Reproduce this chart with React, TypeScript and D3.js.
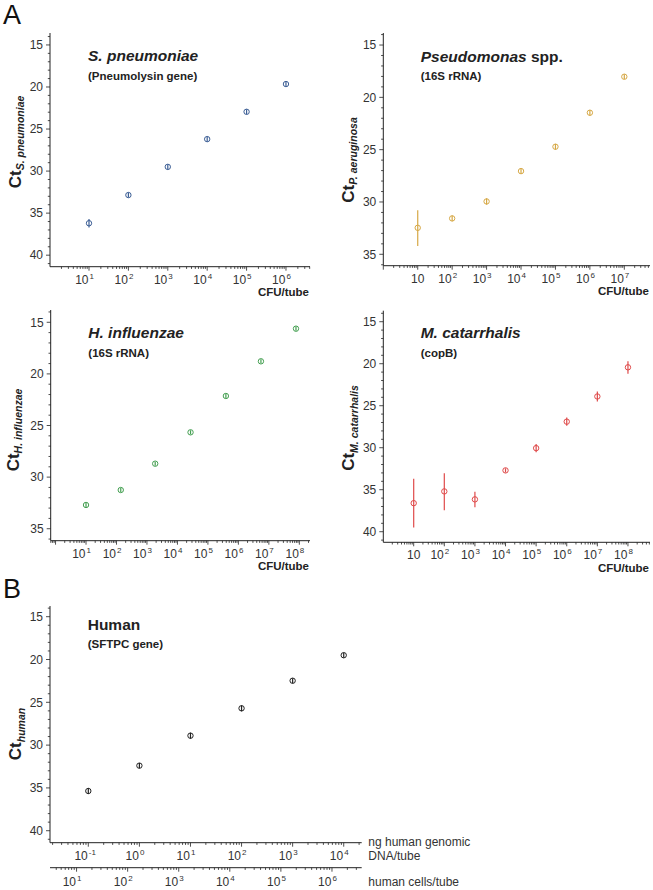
import React from "react";
import * as d3 from "d3";

const FONT = "Arial, 'Liberation Sans', Helvetica, sans-serif";

// ---------- DATA ----------
// Panel A1: S. pneumoniae
const spnX = [1e1, 1e2, 1e3, 1e4, 1e5, 1e6];
const spnCt = [36.2, 32.85, 29.5, 26.2, 22.95, 19.65];
const spnErr = [0.5, 0.3, 0.3, 0.3, 0.3, 0.3];
const spnTickExp = [1, 2, 3, 4, 5, 6];

// Panel A2: Pseudomonas spp.
const psaX = [1e1, 1e2, 1e3, 1e4, 1e5, 1e6, 1e7];
const psaCt = [32.47, 31.57, 29.95, 27.05, 24.72, 21.47, 18.03];
const psaErrLo = [30.8, 31.3, 29.65, 26.8, 24.45, 21.2, 17.8];
const psaErrHi = [34.2, 31.85, 30.25, 27.3, 25.0, 21.75, 18.25];
const psaTickExp = [1, 2, 3, 4, 5, 6, 7];

// Panel A3: H. influenzae
const hinX = [10 ** 1.0, 10 ** 2.14, 10 ** 3.27, 10 ** 4.43, 10 ** 5.59, 10 ** 6.74, 10 ** 7.89];
const hinCt = [32.7, 31.25, 28.7, 25.66, 22.14, 18.78, 15.62];
const hinErr = [0.2, 0.2, 0.2, 0.2, 0.2, 0.2, 0.2];
const hinTickExp = [1, 2, 3, 4, 5, 6, 7, 8];

// Panel A4: M. catarrhalis
const mcaX = [1e1, 1e2, 1e3, 1e4, 1e5, 1e6, 1e7, 1e8];
const mcaCt = [36.6, 35.2, 36.15, 32.7, 30.05, 26.9, 23.9, 20.43];
const mcaErrLo = [33.7, 33.05, 35.24, 32.45, 29.55, 26.4, 23.3, 19.7];
const mcaErrHi = [39.5, 37.45, 37.1, 32.95, 30.55, 27.4, 24.5, 21.2];
const mcaTickExp = [1, 2, 3, 4, 5, 6, 7, 8];

// Panel B: Human
const humX = [1e-1, 1e0, 1e1, 1e2, 1e3, 1e4];
const humCt = [35.36, 32.4, 28.9, 25.7, 22.48, 19.5];
const humErr = [0.35, 0.3, 0.35, 0.35, 0.3, 0.3];
const humTickExp = [-1, 0, 1, 2, 3, 4];
const cellTickExp = [1, 2, 3, 4, 5, 6];
const cellsPerNgLog = 2.23;

const yMajor = [15, 20, 25, 30, 35, 40];

type PanelCfg = {
  x0: number; x1: number; y0: number; y1: number;
  xLog: [number, number];
  yDom: [number, number];
  xs: number[]; ys: number[]; lo: number[]; hi: number[];
  color: string;
  tickExp: number[];
  plainTen?: boolean;
  title: React.ReactNode; subtitle: string;
  tx: number; ty: number; sty: number;
  sub: string; lx: number; ly: number;
  unitLabel?: boolean;
};

function minorTicks(lo: number, hi: number) {
  const out: number[] = [];
  for (let e = Math.floor(lo) - 1; e <= Math.ceil(hi); e++) {
    for (let k = 1; k <= 9; k++) {
      const v = k * Math.pow(10, e);
      const l = Math.log10(v);
      if (l >= lo - 1e-9 && l <= hi + 1e-9) out.push(v);
    }
  }
  return out;
}

function XAxis({ x, y, lo, hi, exps, plainTen, labelDy }: any) {
  const mins = minorTicks(lo, hi);
  return (
    <g>
      <line x1={x.range()[0]} x2={x.range()[1]} y1={y} y2={y} stroke="#222" strokeWidth={1} />
      {mins.map((v: number, i: number) => {
        const isMajor = Math.abs(Math.log10(v) - Math.round(Math.log10(v))) < 1e-9;
        return (
          <line key={i} x1={x(v)} x2={x(v)} y1={y} y2={y + (isMajor ? 4 : 2.2)} stroke="#222" strokeWidth={0.8} />
        );
      })}
      {exps.map((e: number, i: number) => {
        const px = x(Math.pow(10, e));
        if (plainTen && e === 1) {
          return (
            <text key={i} x={px} y={y + labelDy} textAnchor="middle" fontSize={12} fill="#333" fontFamily={FONT}>10</text>
          );
        }
        return (
          <g key={i}>
            <text x={px - 0.5} y={y + labelDy} textAnchor="end" fontSize={12} fill="#333" fontFamily={FONT}>10</text>
            <text x={px + 0.5} y={y + labelDy - 5} textAnchor="start" fontSize={8} fill="#333" fontFamily={FONT}>{e}</text>
          </g>
        );
      })}
    </g>
  );
}

function Panel({ c }: { c: PanelCfg }) {
  const x = d3.scaleLog().domain([Math.pow(10, c.xLog[0]), Math.pow(10, c.xLog[1])]).range([c.x0, c.x1]);
  const y = d3.scaleLinear().domain(c.yDom).range([c.y0, c.y1]);
  const yMinor = d3.range(Math.ceil(c.yDom[0]), Math.floor(c.yDom[1]) + 1);
  return (
    <g>
      <line x1={c.x0} x2={c.x0} y1={c.y0} y2={c.y1} stroke="#222" strokeWidth={1} />
      {yMinor.map((v) => (
        <line key={v} x1={c.x0} x2={c.x0 - (v % 5 === 0 ? 4 : 2.2)} y1={y(v)} y2={y(v)} stroke="#222" strokeWidth={0.8} />
      ))}
      {yMajor.filter((v) => v >= c.yDom[0] && v <= c.yDom[1]).map((v) => (
        <text key={v} x={c.x0 - 7} y={y(v) + 4.3} textAnchor="end" fontSize={12} fill="#333" fontFamily={FONT}>{v}</text>
      ))}
      <XAxis x={x} y={c.y1} lo={c.xLog[0]} hi={c.xLog[1]} exps={c.tickExp} plainTen={c.plainTen} labelDy={17} />
      {c.unitLabel !== false && (
        <text x={c.x1 - 1} y={c.y1 + 29.5} textAnchor="end" fontSize={11.5} fontWeight="bold" fill="#222" fontFamily={FONT}>CFU/tube</text>
      )}
      {c.xs.map((v, i) => (
        <g key={i}>
          <circle cx={x(v)} cy={y(c.ys[i])} r={2.7} fill="none" stroke={c.color} strokeWidth={1} />
          <line x1={x(v)} x2={x(v)} y1={y(c.lo[i])} y2={y(c.hi[i])} stroke={c.color} strokeWidth={1.2} />
        </g>
      ))}
      <text x={c.tx} y={c.ty} fontSize={15.5} fontWeight="bold" fill="#222" fontFamily={FONT}>{c.title}</text>
      <text x={c.tx} y={c.sty} fontSize={11.5} fontWeight="bold" fill="#222" fontFamily={FONT}>{c.subtitle}</text>
      <text transform={`translate(${c.lx},${c.ly}) rotate(-90)`} textAnchor="middle" fontFamily={FONT} fill="#222">
        <tspan fontSize={17} fontWeight="bold">Ct</tspan>
        <tspan fontSize={10.5} fontWeight="bold" fontStyle="italic" dy={3.5}>{c.sub}</tspan>
      </text>
    </g>
  );
}

const sym = (ys: number[], e: number[]) => ({ lo: ys.map((v, i) => v - e[i]), hi: ys.map((v, i) => v + e[i]) });

export default function App() {
  const p1: PanelCfg = {
    x0: 50, x1: 310, y0: 33, y1: 266.7, xLog: [0.01, 6.61], yDom: [13.58, 41.37],
    xs: spnX, ys: spnCt, ...sym(spnCt, spnErr), color: "#3d5f96", tickExp: spnTickExp,
    title: <tspan fontStyle="italic">S. pneumoniae</tspan>, subtitle: "(Pneumolysin gene)",
    tx: 88, ty: 61, sty: 79.5, sub: "S. pneumoniae", lx: 20.5, ly: 142,
  };
  const p2: PanelCfg = {
    x0: 383.3, x1: 650, y0: 33, y1: 265.7, xLog: [0.0, 7.746], yDom: [13.85, 36.09],
    xs: psaX, ys: psaCt, lo: psaErrLo, hi: psaErrHi, color: "#d6a845", tickExp: psaTickExp, plainTen: true,
    title: <><tspan fontStyle="italic">Pseudomonas</tspan><tspan> spp.</tspan></>, subtitle: "(16S rRNA)",
    tx: 420.7, ty: 61.7, sty: 80, sub: "P. aeruginosa", lx: 353.5, ly: 160,
  };
  const p3: PanelCfg = {
    x0: 50.7, x1: 310, y0: 310, y1: 540.7, xLog: [-0.159, 8.35], yDom: [13.81, 36.16],
    xs: hinX, ys: hinCt, ...sym(hinCt, hinErr), color: "#45a052", tickExp: hinTickExp,
    title: <tspan fontStyle="italic">H. influenzae</tspan>, subtitle: "(16S rRNA)",
    tx: 88.3, ty: 338.3, sty: 356.7, sub: "H. influenzae", lx: 18.5, ly: 430,
  };
  const p4: PanelCfg = {
    x0: 383.3, x1: 650, y0: 310.7, y1: 542.3, xLog: [0.007, 8.72], yDom: [13.69, 41.26],
    xs: mcaX, ys: mcaCt, lo: mcaErrLo, hi: mcaErrHi, color: "#df4a4a", tickExp: mcaTickExp, plainTen: true,
    title: <tspan fontStyle="italic">M. catarrhalis</tspan>, subtitle: "(copB)",
    tx: 420.7, ty: 337.7, sty: 356.7, sub: "M. catarrhalis", lx: 354, ly: 428,
  };
  const p5: PanelCfg = {
    x0: 50, x1: 361.7, y0: 606, y1: 842.7, xLog: [-1.75, 4.352], yDom: [13.75, 41.4],
    xs: humX, ys: humCt, ...sym(humCt, humErr), color: "#222", tickExp: humTickExp, unitLabel: false,
    title: <tspan>Human</tspan>, subtitle: "(SFTPC gene)",
    tx: 87.7, ty: 630, sty: 648.3, sub: "human", lx: 21, ly: 734,
  };
  const cellsAxis = d3.scaleLog()
    .domain([Math.pow(10, p5.xLog[0] + cellsPerNgLog), Math.pow(10, p5.xLog[1] + cellsPerNgLog)])
    .range([p5.x0, p5.x1]);
  return (
    <svg width={653} height={890} style={{ position: "absolute", left: 0, top: 0, background: "#fff" }}>
      <rect width={653} height={890} fill="#fff" />
      <text x={3} y={24} fontSize={27} fill="#111" fontFamily={FONT}>A</text>
      <text x={3} y={598} fontSize={27} fill="#111" fontFamily={FONT}>B</text>
      <Panel c={p1} />
      <Panel c={p2} />
      <Panel c={p3} />
      <Panel c={p4} />
      <Panel c={p5} />
      <XAxis x={cellsAxis} y={867.7} lo={p5.xLog[0] + cellsPerNgLog} hi={p5.xLog[1] + cellsPerNgLog} exps={cellTickExp} labelDy={18} />
      <text x={368.3} y={846} fontSize={12} fill="#333" fontFamily={FONT}>ng human genomic</text>
      <text x={368.3} y={860} fontSize={12} fill="#333" fontFamily={FONT}>DNA/tube</text>
      <text x={368.3} y={886} fontSize={12} fill="#333" fontFamily={FONT}>human cells/tube</text>
    </svg>
  );
}
